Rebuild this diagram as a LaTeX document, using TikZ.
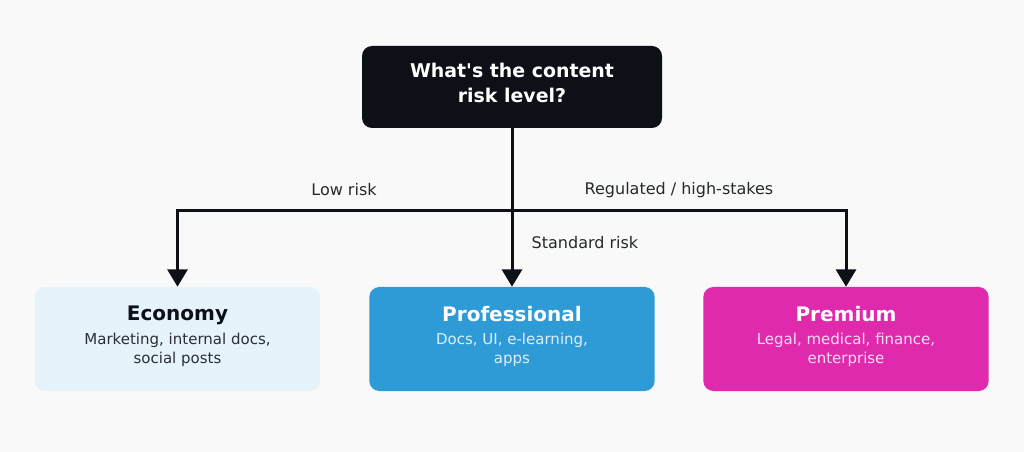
\documentclass[tikz,border=0pt]{standalone}
\usepackage{fontspec}
\setmainfont{DejaVu Sans}[Ligatures=TeXOff]
\usetikzlibrary{arrows.meta}
\definecolor{bgcol}{HTML}{F9F9F9}
\definecolor{inkcol}{HTML}{0D1117}
\definecolor{ecocol}{HTML}{E6F3FB}
\definecolor{procol}{HTML}{2E9AD6}
\definecolor{premcol}{HTML}{E02AAD}
\definecolor{ecosub}{HTML}{2A2F36}
\definecolor{prosub}{HTML}{DCEFFB}
\definecolor{premsub}{HTML}{FBDDF1}
\newcommand{\tiertitle}[2]{{\color{#1}\fontsize{15}{18}\selectfont\bfseries #2}}
\tikzset{
  tier/.style={rectangle,rounded corners=7.5pt,minimum width=214pt,minimum height=78pt,align=center,inner sep=0pt,text depth=6pt,font=\fontsize{11.25}{14.25}\selectfont},
  flow/.style={draw=inkcol,line width=2.25pt,-{Triangle[width=15pt,length=13pt]}},
  lbl/.style={text=inkcol!90,font=\fontsize{12}{14}\selectfont}
}
\begin{document}
\begin{tikzpicture}[x=0.75pt,y=-0.75pt]
    \useasboundingbox[fill=bgcol] (0,0) rectangle (1024,452);
    \node[rectangle,rounded corners=7.5pt,fill=inkcol,minimum width=225pt,minimum height=61.5pt,align=center,text=white,text depth=7pt,font=\fontsize{14.2}{18.75}\selectfont\bfseries] (q) at (512,87) {What's the content\\risk level?};
    \node[tier,fill=ecocol,text=ecosub] (eco) at (177.5,339) {\tiertitle{inkcol}{Economy}\\[3.5pt]Marketing, internal docs,\\social posts};
    \node[tier,fill=procol,text=prosub] (pro) at (512,339) {\tiertitle{white}{Professional}\\[3.5pt]Docs, UI, e-learning,\\apps};
    \node[tier,fill=premcol,text=premsub] (prem) at (846,339) {\tiertitle{white}{Premium}\\[3.5pt]Legal, medical, finance,\\enterprise};
    \coordinate (split) at (512,211);
    \draw[flow] (q.south) -- (pro.north);
    \draw[flow] (split) -| (eco.north);
    \draw[flow] (split) -| (prem.north);
    \node[lbl] (lowlbl) at (344,190) {Low risk};
    \node[lbl] (reglbl) at (679,190) {Regulated / high-stakes};
    \node[lbl,anchor=west] (stdlbl) at (527,243) {Standard risk};
  \end{tikzpicture}
\end{document}
